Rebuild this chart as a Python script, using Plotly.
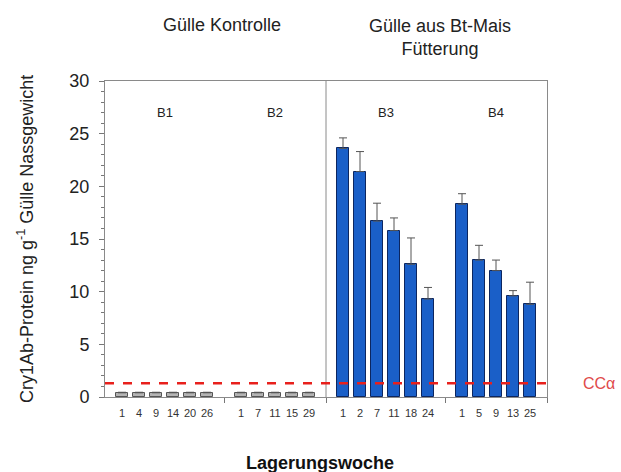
import plotly.graph_objects as go

# ---- data ----
group_names = ["B1", "B2", "B3", "B4"]
weeks_b1 = ["1", "4", "9", "14", "20", "26"]
weeks_b2 = ["1", "7", "11", "15", "29"]
weeks_b3 = ["1", "2", "7", "11", "18", "24"]
weeks_b4 = ["1", "5", "9", "13", "25"]
vals_b1 = [0.4, 0.4, 0.4, 0.4, 0.4, 0.4]
vals_b2 = [0.4, 0.4, 0.4, 0.4, 0.4]
vals_b3 = [23.6, 21.4, 16.7, 15.8, 12.6, 9.3]
vals_b4 = [18.3, 13.0, 12.0, 9.6, 8.8]
err_b1 = [0.05, 0.05, 0.05, 0.05, 0.05, 0.05]
err_b2 = [0.05, 0.05, 0.05, 0.05, 0.05]
err_b3 = [1.0, 1.9, 1.7, 1.2, 2.5, 1.1]
err_b4 = [1.0, 1.4, 1.0, 0.5, 2.1]
cc_alpha = 1.3

groups = [
    (weeks_b1, vals_b1, err_b1, "#b4b4b4", "#555555"),
    (weeks_b2, vals_b2, err_b2, "#b4b4b4", "#555555"),
    (weeks_b3, vals_b3, err_b3, "#1a5fc8", "#0c2660"),
    (weeks_b4, vals_b4, err_b4, "#1a5fc8", "#0c2660"),
]

fig = go.Figure()
tickvals, ticktext, gap_positions, centers = [], [], [], []
pos = 0
for weeks, vals, errs, fill, line in groups:
    xs = list(range(pos, pos + len(weeks)))
    centers.append((xs[0] + xs[-1]) / 2)
    fig.add_trace(go.Bar(
        x=xs, y=vals, width=0.7,
        marker=dict(color=fill, line=dict(color=line, width=1)),
        error_y=dict(type="data", array=errs, arrayminus=[0] * len(errs),
                     symmetric=False, color="#555555", thickness=1, width=4),
        showlegend=False, hoverinfo="skip",
    ))
    tickvals += xs
    ticktext += weeks
    pos = xs[-1] + 1
    gap_positions.append(pos)
    pos += 1

divider = gap_positions[1]
xr = [-1, pos - 1]

# secondary axis just for the small tick marks at gaps
fig.add_trace(go.Scatter(x=[xr[0]], y=[0], xaxis="x2", mode="markers",
                         marker=dict(opacity=0), showlegend=False, hoverinfo="skip"))

fig.add_shape(type="line", xref="x", yref="y", x0=divider, x1=divider, y0=0, y1=30,
              line=dict(color="#8a8a8a", width=1))
fig.add_shape(type="line", xref="paper", yref="y", x0=0, x1=1, y0=cc_alpha, y1=cc_alpha,
              line=dict(color="#e8201c", width=2.5, dash="dash"))

font = "Liberation Sans, Arial, sans-serif"
fig.update_layout(
    width=621, height=472,
    margin=dict(l=105, r=74, t=81, b=75),
    paper_bgcolor="white", plot_bgcolor="white",
    font=dict(family=font, color="#222222"),
    bargap=0,
    xaxis=dict(range=xr, tickvals=tickvals, ticktext=ticktext, ticks="",
               ticklabelstandoff=6,
               tickfont=dict(size=11, color="#333333"), showgrid=False, zeroline=False,
               showline=True, linecolor="#8a8a8a", linewidth=1, mirror=True),
    xaxis2=dict(range=xr, overlaying="x", side="bottom", tickvals=gap_positions,
                ticktext=["" for _ in gap_positions], ticks="outside", ticklen=5,
                tickcolor="#777777", showgrid=False, zeroline=False, showline=False),
    yaxis=dict(range=[0, 30], tickvals=[0, 5, 10, 15, 20, 25, 30], ticks="outside",
               ticklen=5, tickcolor="#777777", tickfont=dict(size=18, color="#222222"),
               ticklabelstandoff=6,
               minor=dict(dtick=1, ticks="outside", ticklen=3, tickcolor="#777777"),
               showgrid=False, zeroline=False, showline=True, linecolor="#8a8a8a",
               linewidth=1, mirror=True),
)

fig.add_annotation(x=(25 - 105) / 442, y=0.5, xref="paper", yref="paper",
                   text="Cry1Ab-Protein ng g<sup>-1</sup> Gülle Nassgewicht",
                   textangle=-90, showarrow=False, xanchor="center", yanchor="middle",
                   font=dict(size=18, color="#222222"))
fig.add_annotation(x=(320 - 105) / 442, y=(397 - 463) / 316, xref="paper", yref="paper",
                   text="<b>Lagerungswoche</b>", showarrow=False, xanchor="center",
                   yanchor="middle", font=dict(size=18, color="#111111"))

for name, c in zip(group_names, centers):
    fig.add_annotation(x=c, y=27.0, xref="x", yref="y", text=name, showarrow=False,
                       font=dict(size=13, color="#222222"))

fig.add_annotation(x=(222 - 105) / 442, y=1 + (81 - 25) / 316, xref="paper", yref="paper",
                   text="Gülle Kontrolle", showarrow=False, xanchor="center", yanchor="middle",
                   font=dict(size=18, color="#222222"))
fig.add_annotation(x=(440 - 105) / 442, y=1 + (81 - 37.5) / 316, xref="paper", yref="paper",
                   text="Gülle aus Bt-Mais<br>Fütterung", showarrow=False, xanchor="center",
                   yanchor="middle", font=dict(size=18, color="#222222"))
fig.add_annotation(x=1.078, y=cc_alpha, xref="paper", yref="y", text="CCα", showarrow=False,
                   xanchor="left", font=dict(size=16, color="#e04a4a"))

fig.write_html("out.html")
